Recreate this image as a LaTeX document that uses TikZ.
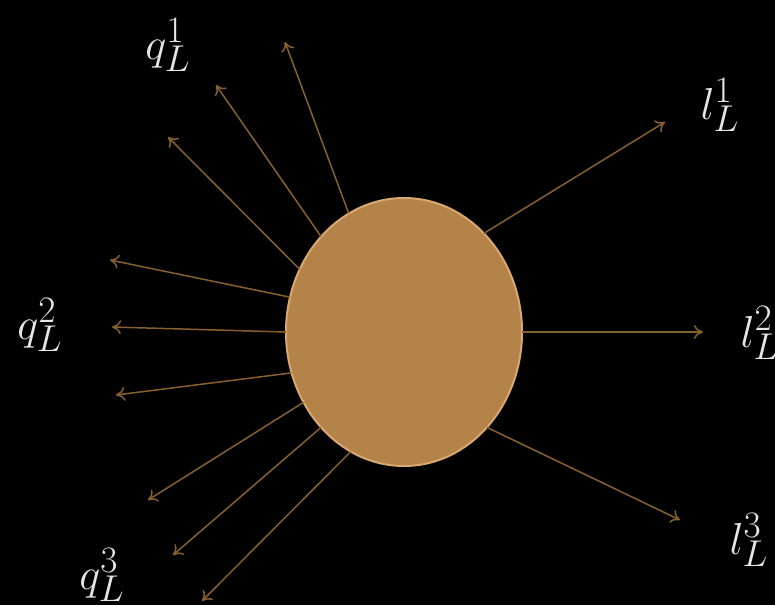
\documentclass[tikz,border=0pt]{standalone}
\usepackage{graphicx}
\usetikzlibrary{shapes.geometric,arrows.meta}
\definecolor{blobfill}{HTML}{B3834A}
\definecolor{blobedge}{HTML}{D9A870}
\definecolor{arrowcol}{HTML}{86612F}
\definecolor{labcol}{HTML}{E6E6E6}
\newcommand{\biglab}[1]{\scalebox{1.8}{\Huge$#1$}}
\begin{document}
\begin{tikzpicture}[x=1pt,y=-1pt,
  blob/.style={ellipse, fill=blobfill, draw=blobedge, line width=2pt, minimum width=236pt, minimum height=268pt, inner sep=0pt, outer sep=0pt},
  ray/.style={draw=arrowcol, line width=1.5pt, -{To[length=9pt,width=14pt]}},
  lab/.style={text=labcol, inner sep=0pt}]
\fill[black] (0,0) rectangle (775,605);
\useasboundingbox (0,0) rectangle (775,605);
\node[blob] (b) at (404,332) {};
% end points
\coordinate (t1) at (285,42);
\coordinate (t2) at (216,85);
\coordinate (t3) at (168,137);
\coordinate (t4) at (110,260);
\coordinate (t5) at (112,327);
\coordinate (t6) at (116,395);
\coordinate (t7) at (148,500);
\coordinate (t8) at (173,555);
\coordinate (t9) at (202,601);
\coordinate (t10) at (665,122);
\coordinate (t11) at (703,332);
\coordinate (t12) at (680,520);
\draw[ray] (b.115) -- (t1);
\draw[ray] (b.131.6) -- (t2);
\draw[ray] (b.149) -- (t3);
\draw[ray] (b.163.6) -- (t4);
\draw[ray] (b.180) -- (t5);
\draw[ray] (b.200.8) -- (t6);
\draw[ray] (b.215.3) -- (t7);
\draw[ray] (b.229.8) -- (t8);
\draw[ray] (b.246.3) -- (t9);
\draw[ray] (b.51.8) -- (t10);
\draw[ray] (b.0) -- (t11);
\draw[ray] (b.311.3) -- (t12);
% labels
\node[lab] (q1) at (168,45) {\biglab{q_L^1}};
\node[lab] (q2) at (40,325) {\biglab{q_L^2}};
\node[lab] (q3) at (102,575) {\biglab{q_L^3}};
\node[lab] (l1) at (720,105) {\biglab{l_L^1}};
\node[lab] (l2) at (760,333) {\biglab{l_L^2}};
\node[lab] (l3) at (749,540) {\biglab{l_L^3}};
\end{tikzpicture}
\end{document}
